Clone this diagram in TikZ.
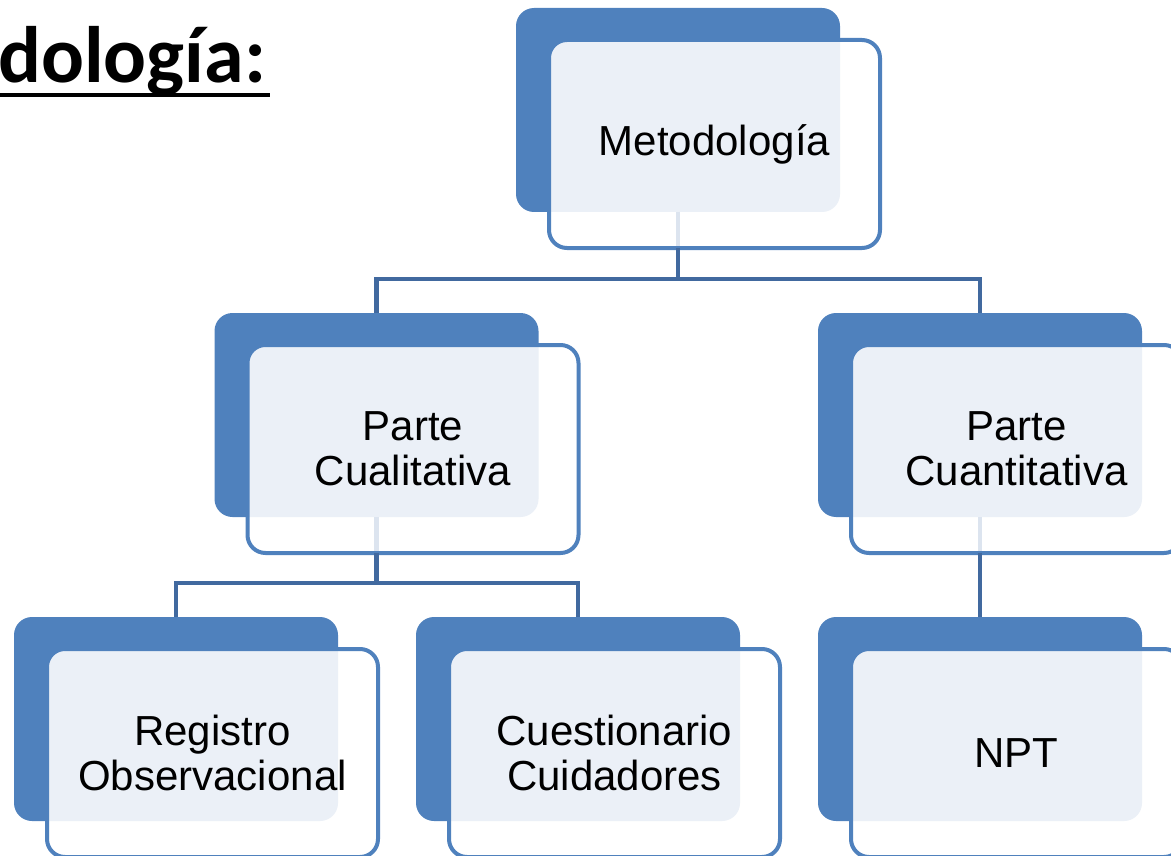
\documentclass[tikz,border=0pt]{standalone}
\usepackage{fontspec}
\setmainfont{Liberation Sans}
\newfontfamily\carlitofont{Carlito}
\definecolor{backblue}{HTML}{4F81BD}
\definecolor{edgeblue}{HTML}{4F81BD}
\definecolor{lightfill}{HTML}{EBF0F7}
\definecolor{connblue}{HTML}{41699F}
\definecolor{paleconn}{HTML}{DCE4EF}
\tikzset{
  backbox/.style={fill=backblue, draw=none, minimum width=324pt, minimum height=204pt, rounded corners=18pt, inner sep=0pt, outer sep=0pt},
  frontwhite/.style={fill=white, draw=none, minimum width=331pt, minimum height=208pt, rounded corners=18pt, inner sep=0pt, outer sep=0pt},
  frontbox/.style={draw=edgeblue, line width=4pt, fill=none, minimum width=331pt, minimum height=208pt, rounded corners=18pt, inner sep=0pt, outer sep=0pt, align=center, font=\fontsize{42}{45}\selectfont},
  conn/.style={draw=connblue, line width=4.5pt},
  paleline/.style={draw=paleconn, line width=4.5pt},
  titletext/.style={anchor=base west, inner sep=0pt, font={\carlitofont\bfseries\fontsize{80}{84}\selectfont}},
}
\newcommand\unitbox[5]{%
  \node[backbox] (b#1) at (#2,#3) {};
  \node[frontwhite] (w#1) at (#2+36.5,#3+34) {};
  \begin{scope}
    \clip[rounded corners=18pt] (b#1.south west) rectangle (b#1.north east);
    \fill[lightfill, rounded corners=18pt] (w#1.south west) rectangle (w#1.north east);
  \end{scope}
  #5
  \node[frontbox] (f#1) at (w#1) {#4};
}
\begin{document}
\begin{tikzpicture}[x=1pt,y=-1pt]
\useasboundingbox (0,0) rectangle (1171,856);
\node[titletext] (title) at (-2,83) {dología:};
\coordinate (ulA) at (0,95);
\coordinate (ulB) at (270,95);
\draw[line width=4pt, black] (ulA) -- (ulB);

\unitbox{1}{678}{110}{Metodología}{\draw[paleline] (b1.south) -- (b1.south |- w1.south);}
\unitbox{2}{376.5}{415}{Parte\\Cualitativa}{\draw[paleline] (b2.south) -- (b2.south |- w2.south);}
\unitbox{3}{980}{415}{Parte\\Cuantitativa}{\draw[paleline] (b3.south) -- (b3.south |- w3.south);}
\unitbox{4}{176}{719}{Registro\\Observacional}{}
\unitbox{5}{578}{719}{Cuestionario\\Cuidadores}{}
\unitbox{6}{980}{719}{NPT}{}

\coordinate (j1) at (678,279);
\coordinate (j2) at (376.5,583);
\draw[conn] (b1.south |- f1.south) -- (j1);
\draw[conn] (j1) -| (b2.north);
\draw[conn] (j1) -| (b3.north);
\draw[conn] (b2.south |- f2.south) -- (j2);
\draw[conn] (j2) -| (b4.north);
\draw[conn] (j2) -| (b5.north);
\draw[conn] (b3.south |- f3.south) -- (b6.north);
\end{tikzpicture}
\end{document}
